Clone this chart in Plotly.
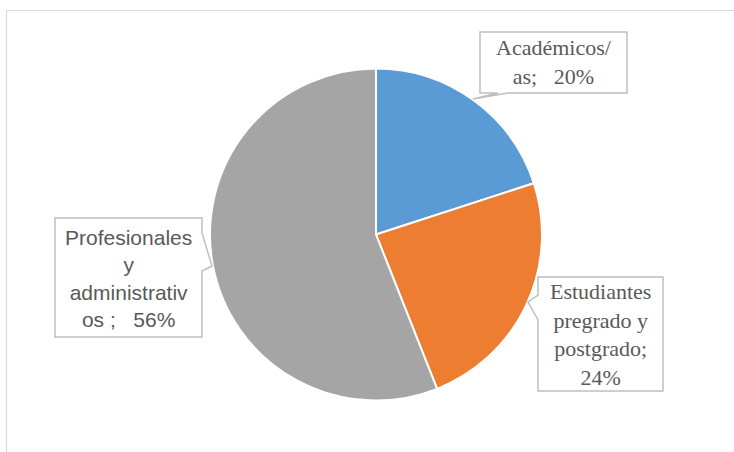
import plotly.graph_objects as go

W, H = 734, 452

categories = ["Académicos/as", "Estudiantes pregrado y postgrado", "Profesionales y administrativos"]
values = [20, 24, 56]
colors = ["#5B9BD5", "#ED7D31", "#A5A5A5"]
label_texts = [
    "Académicos/<br>as;\u00a0\u00a0\u00a020%",
    "Estudiantes<br>pregrado y<br>postgrado;<br>24%",
    "Profesionales<br>y<br>administrativ<br>os\u00a0;\u00a0\u00a0\u00a056%",
]


def px(x):
    return x / W


def py(y):
    return 1 - y / H


def path(points):
    return "M " + " L ".join(f"{px(x):.5f},{py(y):.5f}" for x, y in points) + " Z"


cx, cy, r = 376, 234.5, 166

fig = go.Figure()
fig.add_trace(go.Pie(
    values=values,
    labels=categories,
    sort=False,
    direction="clockwise",
    rotation=0,
    textinfo="none",
    hoverinfo="label+percent",
    marker=dict(colors=colors, line=dict(color="white", width=2)),
    domain=dict(x=[px(cx - r), px(cx + r)], y=[py(cy + r), py(cy - r)]),
    showlegend=False,
))

# callout boxes (box outline including pointer)
box_a = [(480, 32), (627, 32), (627, 93), (508, 93), (473, 99), (498, 93), (480, 93)]
box_e = [(538, 277), (663, 277), (663, 391), (538, 391), (538, 320), (528, 302), (538, 295)]
box_p = [(55, 218), (202, 218), (202, 233), (212, 266), (202, 271), (202, 337), (55, 337)]

shapes = []
# outer chart border (extends past the window)
shapes.append(dict(type="path", xref="paper", yref="paper",
                   path=f"M {px(6.5)},{py(470)} L {px(6.5)},{py(10.5)} L {px(760)},{py(10.5)}",
                   line=dict(color="#D9D9D9", width=1.2)))
for b in (box_a, box_e, box_p):
    shapes.append(dict(type="path", xref="paper", yref="paper", path=path(b),
                       fillcolor="white", line=dict(color="#BFBFBF", width=1.5),
                       layer="above"))

ann_pos = [((480 + 627) / 2, 62), ((538 + 663) / 2, 334), ((55 + 202) / 2, 278)]
fonts = [
    dict(family="Liberation Serif, Times New Roman, serif", size=22, color="#595959"),
    dict(family="Liberation Serif, Times New Roman, serif", size=22, color="#595959"),
    dict(family="Liberation Sans, Arial, sans-serif", size=21, color="#595959"),
]
annotations = []
for (x, y), t, f in zip(ann_pos, label_texts, fonts):
    annotations.append(dict(x=px(x), y=py(y), xref="paper", yref="paper",
                            text=t, showarrow=False, font=f, align="center",
                            xanchor="center", yanchor="middle"))

fig.update_layout(
    width=W, height=H,
    margin=dict(l=0, r=0, t=0, b=0),
    paper_bgcolor="white", plot_bgcolor="white",
    shapes=shapes, annotations=annotations,
)

fig.write_html("out.html", config={"displayModeBar": False},
               post_script="document.body.style.margin='0';")
